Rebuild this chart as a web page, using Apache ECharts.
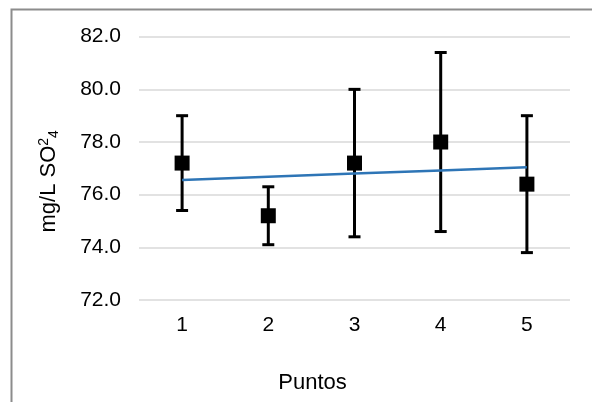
<!DOCTYPE html>
<html>
<head>
<meta charset="utf-8">
<script src="https://cdn.jsdelivr.net/npm/echarts@6/dist/echarts.min.js"></script>
<style>html,body{margin:0;padding:0;background:#fff}#c{width:592px;height:402px}</style>
</head>
<body>
<div id="c"></div>
<script>
const categories = ['1', '2', '3', '4', '5'];
const means = [77.2, 75.2, 77.2, 78.0, 76.4];
const upper = [79.0, 76.3, 80.0, 81.4, 79.0];
const lower = [75.4, 74.1, 74.4, 74.6, 73.8];
const yTicks = [72, 74, 76, 78, 80, 82];

// linear trend line fitted to the means
const n = means.length;
const xs = means.map((_, i) => i + 1);
const mx = xs.reduce((a, b) => a + b, 0) / n;
const my = means.reduce((a, b) => a + b, 0) / n;
let sxy = 0, sxx = 0;
for (let i = 0; i < n; i++) { sxy += (xs[i] - mx) * (means[i] - my); sxx += (xs[i] - mx) * (xs[i] - mx); }
const slope = sxy / sxx;
const trend = xs.map(x => my + slope * (x - mx));

const errData = categories.map((c, i) => [i, lower[i], upper[i]]);
const FONT = '"Liberation Sans", Arial, sans-serif';

const chart = echarts.init(document.getElementById('c'), null, {renderer: 'canvas'});
chart.setOption({
  animation: false,
  backgroundColor: '#fff',
  textStyle: {fontFamily: FONT},
  graphic: [{
    type: 'rect', left: 9, top: 7, silent: true, z: -1,
    shape: {x: 0, y: 0, width: 700, height: 500},
    style: {fill: 'none', stroke: '#8c8c8c', lineWidth: 2}
  }],
  grid: {left: 139, right: 22, top: 36.7, bottom: 102, containLabel: false},
  xAxis: {
    type: 'category', data: categories, boundaryGap: true,
    axisLine: {show: false}, axisTick: {show: false},
    axisLabel: {color: '#000', fontSize: 21, margin: 15, fontFamily: FONT},
    name: 'Puntos', nameLocation: 'middle', nameGap: 72,
    nameTextStyle: {color: '#000', fontSize: 22, fontFamily: FONT, padding: [0, 84, 0, 0]}
  },
  yAxis: {
    type: 'value', min: yTicks[0], max: yTicks[yTicks.length - 1], interval: 2,
    axisLine: {show: false}, axisTick: {show: false},
    axisLabel: {color: '#000', fontSize: 21, margin: 18, fontFamily: FONT, formatter: v => v.toFixed(1)},
    splitLine: {show: true, lineStyle: {color: '#d9d9d9', width: 1.5}},
    name: 'mg/L SO{sup|2}{sub|4}', nameLocation: 'middle', nameGap: 78,
    nameTextStyle: {
      color: '#000', fontSize: 22, fontFamily: FONT, padding: [0, 26, 0, 0],
      rich: {
        sup: {fontSize: 14, color: '#000', fontFamily: FONT, verticalAlign: 'top', padding: [0, 0, 10, 0]},
        sub: {fontSize: 14, color: '#000', fontFamily: FONT, verticalAlign: 'bottom', padding: [4, 0, 0, 0]}
      }
    }
  },
  series: [
    {
      type: 'custom', z: 2, data: errData,
      renderItem: function (params, api) {
        const x = api.coord([api.value(0), api.value(1)])[0];
        const yLo = api.coord([api.value(0), api.value(1)])[1];
        const yHi = api.coord([api.value(0), api.value(2)])[1];
        const hw = 6;
        const st = {stroke: '#000', lineWidth: 3, fill: 'none'};
        return {
          type: 'group',
          children: [
            {type: 'line', shape: {x1: x, y1: yLo, x2: x, y2: yHi}, style: st},
            {type: 'line', shape: {x1: x - hw, y1: yLo, x2: x + hw, y2: yLo}, style: st},
            {type: 'line', shape: {x1: x - hw, y1: yHi, x2: x + hw, y2: yHi}, style: st}
          ]
        };
      }
    },
    {
      type: 'line', z: 3, data: trend, showSymbol: false, symbol: 'none',
      lineStyle: {color: '#2e75b6', width: 2.5}
    },
    {
      type: 'scatter', z: 4, data: means, symbol: 'rect', symbolSize: 15,
      itemStyle: {color: '#000', opacity: 1}
    }
  ]
});
</script>
</body>
</html>
